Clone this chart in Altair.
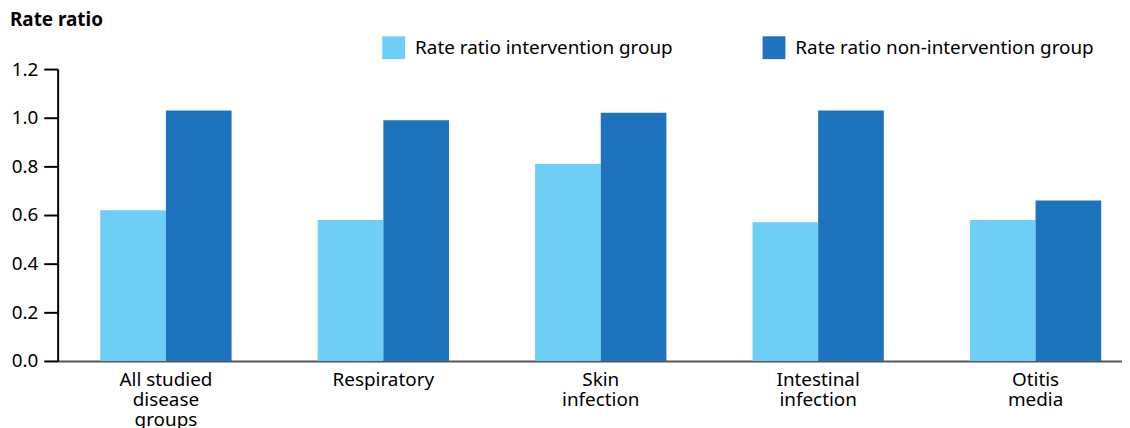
import altair as alt
import pandas as pd

categories = ["All studied\ndisease\ngroups", "Respiratory", "Skin\ninfection", "Intestinal\ninfection", "Otitis\nmedia"]
series = ["Rate ratio intervention group", "Rate ratio non-intervention group"]
intervention = [0.62, 0.58, 0.81, 0.57, 0.58]
non_intervention = [1.03, 0.99, 1.02, 1.03, 0.66]
y_ticks = [0.0, 0.2, 0.4, 0.6, 0.8, 1.0, 1.2]

rows = []
for c, a, b in zip(categories, intervention, non_intervention):
    rows.append({"cat": c, "series": series[0], "value": a})
    rows.append({"cat": c, "series": series[1], "value": b})
df = pd.DataFrame(rows)

FONT = "Noto Sans"

chart = alt.Chart(df).mark_bar().encode(
    x=alt.X("cat:N", sort=categories, title=None,
            scale=alt.Scale(paddingInner=0.396, paddingOuter=0.196, range=[0, 1094]),
            axis=alt.Axis(labelAngle=0, ticks=False, domainColor="#555555", domainWidth=2,
                          labelExpr="split(datum.label, '\\n')", labelFontSize=19,
                          labelColor="#000000", labelFont=FONT, labelPadding=10,
                          labelLineHeight=20, labelLimit=0)),
    xOffset=alt.XOffset("series:N", sort=series, scale=alt.Scale(paddingInner=0, paddingOuter=0)),
    y=alt.Y("value:Q", title=None,
            scale=alt.Scale(domain=[0, 1.2], nice=False),
            axis=alt.Axis(values=y_ticks, format=".1f", grid=False, domainColor="#000000",
                          domainWidth=2, tickColor="#000000", tickWidth=2, tickSize=14,
                          labelFontSize=19, labelColor="#000000", labelFont=FONT,
                          labelPadding=6)),
    color=alt.Color("series:N", sort=series,
                    scale=alt.Scale(domain=series, range=["#6dcff6", "#1e73be"]),
                    legend=alt.Legend(title=None, orient="none", legendX=327, legendY=-33,
                                      direction="horizontal", symbolType="square",
                                      symbolSize=529, symbolStrokeWidth=0, symbolOpacity=1,
                                      labelFontSize=19, labelFont=FONT, labelColor="#000000",
                                      labelOffset=10, columnPadding=90, labelLimit=0)),
).properties(
    width=1072, height=294,
    title=alt.Title("Rate ratio", anchor="start", frame="group", dx=-48, offset=6,
                    fontSize=19, font=FONT, fontWeight="bold", color="#000000"),
    padding={"left": 50, "top": 60, "right": 0, "bottom": 66},
    autosize=alt.AutoSizeParams(type="none"),
).configure_view(stroke=None)

chart.save("out.html", embed_options={"renderer": "svg", "actions": False})
